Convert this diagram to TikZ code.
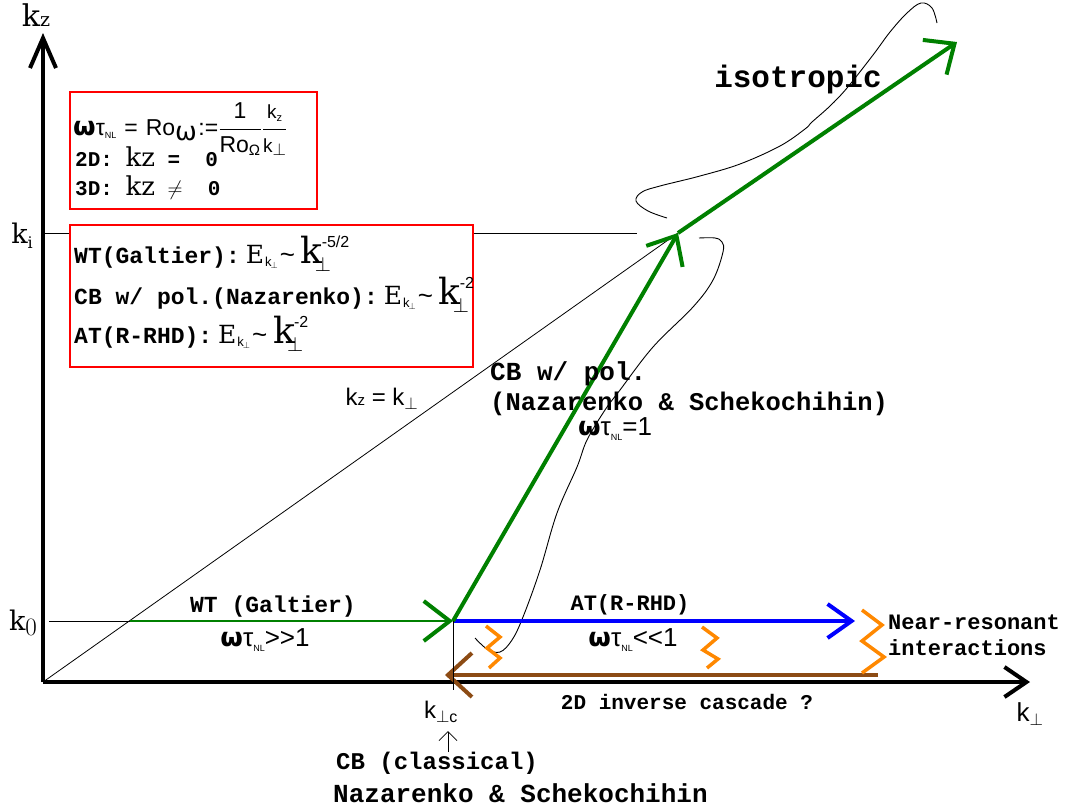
\documentclass[tikz,border=0pt]{standalone}
\usepackage{fontspec}
\usetikzlibrary{arrows.meta}
\newfontfamily\courfont{Liberation Mono}
\newfontfamily\arialfont{Liberation Sans}
\newfontfamily\dvsfont{DejaVu Sans}
\newfontfamily\serfont{DejaVu Serif}
\definecolor{wtgreen}{RGB}{0,128,0}
\definecolor{nrorange}{RGB}{255,136,0}
\definecolor{icbrown}{RGB}{140,75,20}
\newcommand{\fsz}[1]{\fontsize{#1}{#1}\selectfont}
\newcommand{\omtau}{{\dvsfont\bfseries\fsz{26}ω}{\arialfont τ}\raisebox{-0.3ex}{\arialfont\fsz{9}NL}}
\newcommand{\espec}[1]{{\mdseries\kern6pt{\serfont\fsz{25}E}\kern1pt\raisebox{-3pt}{\arialfont\fsz{13}k\kern-1pt\raisebox{-2pt}{\fsz{9}$\perp$}}\kern2pt{\arialfont\fsz{26}\textasciitilde}\kern6pt{\serfont\fsz{36}k}\kern-8pt\rlap{\raisebox{-8pt}{\fsz{20}$\perp$}}\kern7pt\raisebox{16pt}{\arialfont\fsz{16}#1}}}

\tikzset{
  axisline/.style={line width=3.5pt},
  thinline/.style={line width=0.8pt},
  handcurve/.style={line width=0.9pt, smooth, tension=0.6},
  redbox/.style={draw=red, line width=2pt, fill=white},
  wtarrow/.style={wtgreen, line width=2.5pt, -{Straight Barb[length=26pt,width=40pt,line width=4pt]}},
  cbarrow/.style={wtgreen, line width=4pt, -{Straight Barb[length=24pt,width=42pt,line width=4pt]}},
  atarrow/.style={blue, line width=3.5pt, -{Straight Barb[length=24pt,width=34pt,line width=4pt]}},
  icarrow/.style={icbrown, line width=4pt, -{Straight Barb[length=24pt,width=44pt,line width=4pt]}},
  zigzag/.style={nrorange, line width=3.5pt, line join=miter},
  monolbl/.style={font=\courfont\bfseries\fsz{#1}, inner sep=0pt},
  sanslbl/.style={font=\arialfont\fsz{#1}, inner sep=0pt}
}

\begin{document}
\begin{tikzpicture}[x=1pt,y=-1pt]
  \useasboundingbox (0,0) rectangle (1070,809);

  % axes
  \coordinate (O) at (43,682);
  \coordinate (ztop) at (43,33);
  \coordinate (xend) at (1030,682);
  \draw[axisline, -{Straight Barb[length=30pt,width=26pt,line width=4pt]}] (O) -- (ztop);
  \draw[axisline, -{Straight Barb[length=22pt,width=30pt,line width=4pt]}] (O) -- (xend);

  \node[font=\serfont, inner sep=0pt] (kzlbl) at (36,15) {\fsz{30}k\fsz{19}z};
  \node[sanslbl=26] (kplbl) at (1030,714) {k$_{\perp}$};

  % levels k_0 and k_i
  \coordinate (k0) at (130,621);
  \coordinate (kc) at (453,621);
  \coordinate (ki) at (678,233);
  \coordinate (iso) at (957,42);
  \draw[thinline] (45,233) -- (637,233);
  \draw[thinline] (49,621) -- (k0);
  \draw[thinline] (O) -- (ki);
  \node[font=\serfont, inner sep=0pt] (kilbl) at (22,236) {\fsz{27}k\raisebox{-5pt}{\fsz{16}i}};
  \node[font=\serfont, inner sep=0pt] (k0lbl) at (23,623) {\fsz{27}k\raisebox{-5pt}{\rmfamily\fsz{25}0}};

  % hand drawn curves
  \draw[handcurve] plot coordinates {(475,638) (487,649) (500,652) (512,640) (523,617) (540,570) (557,513)
    (577,467) (587,440) (605,410) (620,390) (653,347) (693,307) (713,280) (723,252) (722,242) (715,238) (699,238)};
  \draw[handcurve] plot coordinates {(667,218) (648,211) (636,201) (642,192) (660,186) (700,176) (740,164)
    (780,146) (805,129) (812,122) (830,106) (847,88) (873,55) (890,32) (907,13) (921,3) (932,8) (937,23)};

  % cascades
  \draw[wtarrow] (k0) -- (kc);
  \draw[atarrow] (kc) -- (855,621);
  \draw[cbarrow] (kc) -- (ki);
  \draw[cbarrow] (ki) -- (iso);
  \draw[icarrow] (878,675) -- (445,675);
  \draw[thinline] (kc) -- (453,690);

  % near-resonant zigzags
  \draw[zigzag] (486,626) -- (500,637) -- (487,648) -- (500,658) -- (489,668);
  \draw[zigzag] (702,627) -- (717,638) -- (703,650) -- (718,659) -- (707,668);
  \draw[zigzag] (862,610) -- (882,625) -- (862,641) -- (884,657) -- (862,673);

  % arrow labels
  \node[monolbl=23] (wtlbl) at (273,607) {WT (Galtier)};
  \node[sanslbl=26] (wtreg) at (265,640) {\omtau>>1};
  \node[monolbl=22] (atlbl) at (630,605) {AT(R-RHD)};
  \node[sanslbl=26] (atreg) at (633,640) {\omtau<<1};
  \node[monolbl=22, anchor=west] (nrlbl1) at (888,622) {Near-resonant};
  \node[monolbl=22, anchor=west] (nrlbl2) at (888,648) {interactions};
  \node[monolbl=21] (iclbl) at (687,702) {2D inverse cascade ?};
  \node[monolbl=26, anchor=west] (cblbl1) at (490,374) {CB w/ pol.};
  \node[monolbl=25.5, anchor=west] (cblbl2) at (490,404) {(Nazarenko \& Schekochihin)};
  \node[sanslbl=26] (cbreg) at (615,429) {\omtau=1};
  \node[sanslbl=24] (diaglbl) at (382,399) {k{\fsz{15}z} = k$_{\perp}$};
  \node[monolbl=31] (isolbl) at (798,79) {isotropic};

  % k_perp,c and classical CB
  \node[sanslbl=24] (kclbl) at (441,712) {k$_{\perp\mbox{\arialfont\fsz{16}c}}$};
  \draw[thinline, -{Straight Barb[length=9pt,width=18pt,line width=0.8pt]}] (448,752) -- (448,731);
  \node[monolbl=24, anchor=west] (cclbl1) at (336,763) {CB (classical)};
  \node[monolbl=26, anchor=west] (cclbl2) at (333,793) {Nazarenko \& Schekochihin};

  % parameter box
  \draw[redbox] (70,92) rectangle (317,209);
  \node[anchor=base west, inner sep=0pt, font=\arialfont\fsz{23}] (rodef) at (73,135)
    {\omtau{}\kern8pt=\kern8pt Ro$_{\mbox{\dvsfont\fsz{26}ω}}$\kern1pt:=$\displaystyle\frac{\mbox{\kern6pt1\kern6pt}}{\mbox{Ro}_{\mbox{\fsz{15}Ω}}}\frac{\mbox{\fsz{19}k}_{\mbox{\fsz{11}z}}}{\mbox{\fsz{19}k}_{\perp}}$};
  \node[anchor=base west, inner sep=0pt, font=\courfont\bfseries\fsz{21}] (twod) at (75,166)
    {2D: {\serfont\mdseries\fsz{26}kz}~=~~0};
  \node[anchor=base west, inner sep=0pt, font=\courfont\bfseries\fsz{21}] (threed) at (75,195)
    {3D: {\serfont\mdseries\fsz{26}kz}~$\neq$~~0};

  % spectra box
  \draw[redbox] (70,225) rectangle (473,367);
  \node[anchor=base west, monolbl=23] (wtspec) at (74,263) {WT(Galtier):\espec{-5/2}};
  \node[anchor=base west, monolbl=23] (cbspec) at (74,304) {CB w/ pol.(Nazarenko):\espec{-2}};
  \node[anchor=base west, monolbl=23] (atspec) at (74,343) {AT(R-RHD):\espec{-2}};
\end{tikzpicture}
\end{document}
